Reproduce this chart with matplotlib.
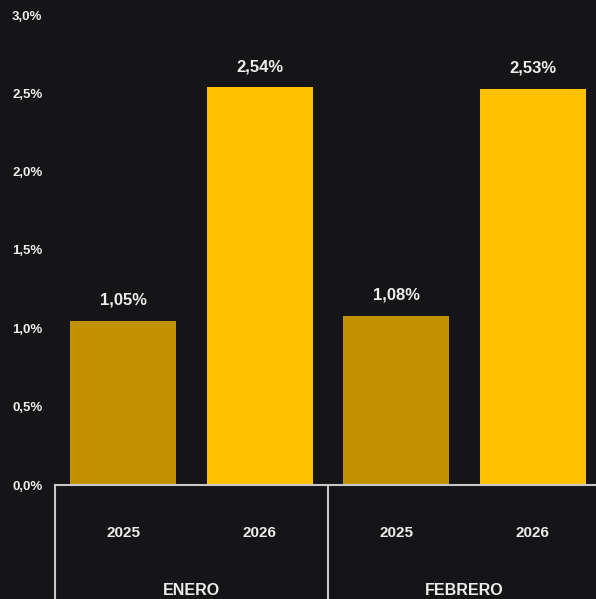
import matplotlib
matplotlib.use('Agg')
import matplotlib.pyplot as plt
from matplotlib.transforms import blended_transform_factory

plt.rcParams['font.family'] = ['Liberation Sans', 'DejaVu Sans']

years = ['2025', '2026', '2025', '2026']
months = ['ENERO', 'FEBRERO']
values = [1.05, 2.54, 1.08, 2.53]
value_labels = ['1,05%', '2,54%', '1,08%', '2,53%']
colors = ['#C29100', '#FFC000', '#C29100', '#FFC000']
yticks = [0.0, 0.5, 1.0, 1.5, 2.0, 2.5, 3.0]
ytick_labels = ['0,0%', '0,5%', '1,0%', '1,5%', '2,0%', '2,5%', '3,0%']

bg = '#151517'
txt = '#EDEDED'
line_col = '#C8C8C8'

fig = plt.figure(figsize=(5.96, 5.99), dpi=100, facecolor=bg)
ax = fig.add_axes([55 / 596, 114 / 599, 546 / 596, 470 / 599])
ax.set_facecolor(bg)

x = range(len(values))
ax.bar(x, values, width=0.777, color=colors, zorder=2)
for i, v in enumerate(values):
    ax.text(i, v + 0.13, value_labels[i], ha='center', va='center',
            color=txt, fontsize=12, fontweight='bold')

ax.set_xlim(-0.5, 3.5)
ax.set_ylim(0, 3.0)
ax.set_yticks(yticks)
ax.set_yticklabels(ytick_labels)
ax.tick_params(axis='y', length=0, pad=9, labelsize=9.5, labelcolor=txt)
for lab in ax.get_yticklabels():
    lab.set_fontweight('bold')

ax.set_xticks(list(x))
ax.set_xticklabels(years)
ax.tick_params(axis='x', length=0, pad=29.5, labelsize=11, labelcolor=txt)
for lab in ax.get_xticklabels():
    lab.set_fontweight('bold')

for side in ['top', 'right', 'left']:
    ax.spines[side].set_visible(False)
ax.spines['bottom'].set_color(line_col)
ax.spines['bottom'].set_linewidth(1.5)

trans = blended_transform_factory(ax.transData, ax.transAxes)
for xs in [-0.5, 1.5, 3.5]:
    ax.plot([xs, xs], [0, -0.25], color=line_col, lw=1.5, transform=trans,
            clip_on=False)
for j, m in enumerate(months):
    ax.text(j * 2 + 0.5, -0.225, m, transform=trans, ha='center', va='center',
            color=txt, fontsize=11.5, fontweight='bold')

fig.savefig('out.png', dpi=100, facecolor=bg)
